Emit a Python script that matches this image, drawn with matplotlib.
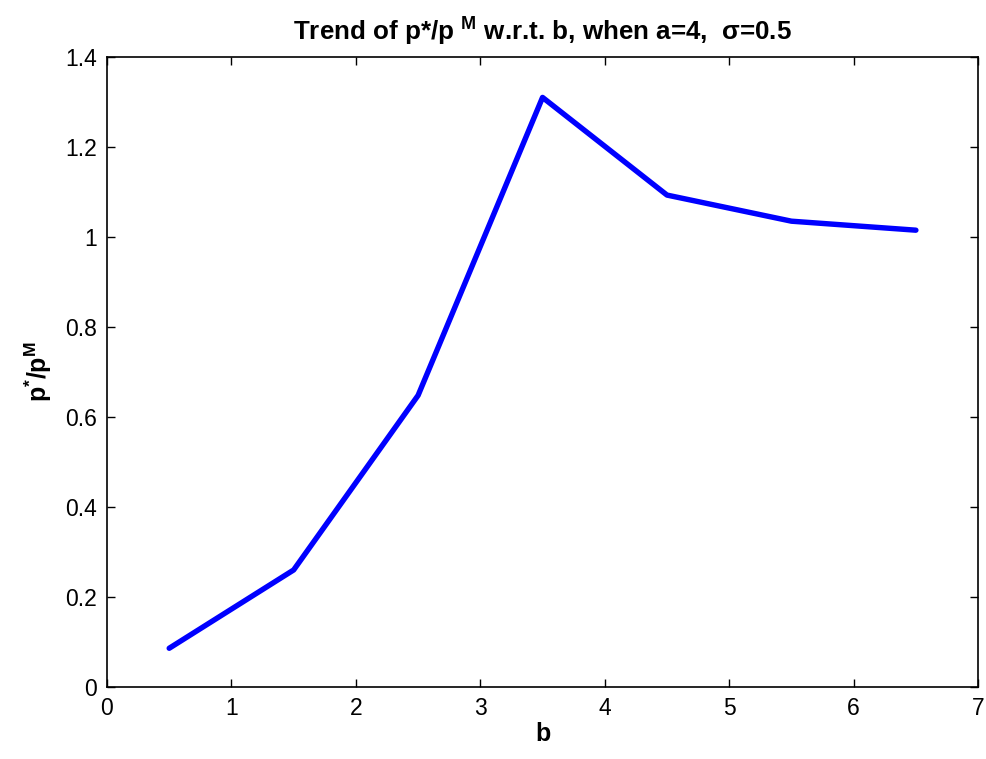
import matplotlib
matplotlib.use("Agg")
import matplotlib.pyplot as plt

plt.rcParams['font.family'] = ['Liberation Sans', 'DejaVu Sans']
plt.rcParams['mathtext.fontset'] = 'custom'
plt.rcParams['mathtext.rm'] = 'Liberation Sans'
plt.rcParams['mathtext.bf'] = 'Liberation Sans:bold'
plt.rcParams['mathtext.default'] = 'bf'

b_values = [0.5, 1.5, 2.5, 3.5, 4.5, 5.5, 6.5]
ratio = [0.086, 0.26, 0.648, 1.31, 1.093, 1.035, 1.015]
x_ticks = [0, 1, 2, 3, 4, 5, 6, 7]
y_ticks = [0, 0.2, 0.4, 0.6, 0.8, 1.0, 1.2, 1.4]
y_tick_labels = ['0', '0.2', '0.4', '0.6', '0.8', '1', '1.2', '1.4']

fig = plt.figure(figsize=(9.86, 7.59), dpi=100)
ax = fig.add_axes([0.1085, 0.0949, 0.8835, 0.8301])
ax.plot(b_values, ratio, color='#0000ff', linewidth=3.9, solid_capstyle='round')
ax.set_xlim(0, 7)
ax.set_ylim(0, 1.4)
ax.set_xticks(x_ticks)
ax.set_xticklabels([str(t) for t in x_ticks])
ax.set_yticks(y_ticks)
ax.set_yticklabels(y_tick_labels)
ax.tick_params(direction='in', length=6, width=1, labelsize=16.5, top=True, right=True, pad=7)
for s in ax.spines.values():
    s.set_linewidth(1.2)

ax.set_xlabel('b', fontsize=18, fontweight='bold', labelpad=2)
ax.set_ylabel(r'p$^{*}$/p$^{M}$', fontsize=18, fontweight='bold', labelpad=8)
ax.set_title(r'Trend of p*/p $^{M}$ w.r.t. b, when a=4,  σ=0.5', fontsize=18.7, fontweight='bold', pad=12)

fig.savefig('out.png', dpi=100)
